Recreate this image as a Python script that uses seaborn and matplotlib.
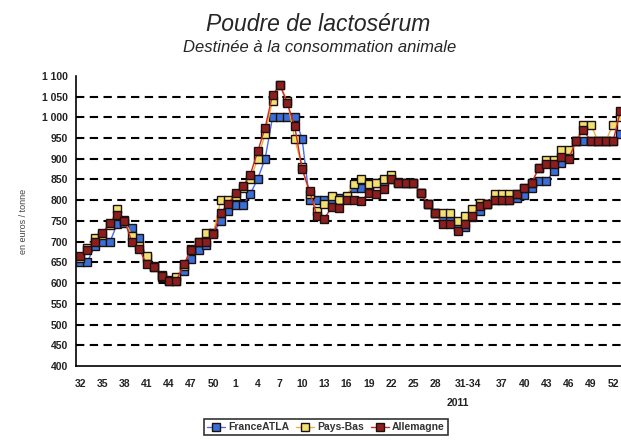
import pandas as pd
import matplotlib
matplotlib.use("Agg")
import matplotlib.pyplot as plt
import seaborn as sns

# Semaines : 2010 (32-52), 2011 (1-52), puis 1ère semaine 2012
semaines = [str(w) for w in range(32, 53)] + [str(w) for w in range(1, 53)] + ["1"]

france = [650, 652, 690, 700, 698, 742, 745, 734, 710, 660,
          640, 615, 605, 605, 630, 658, 680, 692, 720, 750,
          774, 788, 788, 815, 852, 900, 1000, 1000, 1000, 1000,
          948, 800, 800, 800, 800, 805, 805, 830, 830, 830,
          842, 845, 850, 845, 842, 842, 818, 790, 770, 755,
          750, 735, 735, 760, 775, 790, 800, 800, 800, 805,
          812, 830, 846, 846, 870, 890, 910, 942, 942, 942,
          942, 942, 942, 960]
pays_bas = [660, 685, 710, 715, 740, 780, 752, 714, 690, 666,
            642, 620, 608, 615, 642, 682, 700, 720, 720, 800,
            800, 810, 830, 850, 900, 960, 1040, 1078, 1040, 948,
            880, 815, 775, 790, 810, 800, 810, 840, 850, 840,
            842, 850, 862, 842, 842, 842, 818, 790, 770, 770,
            770, 750, 762, 778, 794, 790, 815, 815, 815, 815,
            830, 842, 878, 898, 898, 920, 920, 942, 982, 982,
            942, 942, 982, 1000]
allemagne = [665, 680, 698, 720, 745, 765, 750, 700, 682, 645,
             640, 618, 605, 605, 645, 680, 698, 700, 718, 770,
             790, 818, 834, 862, 918, 975, 1054, 1078, 1034, 978,
             875, 822, 762, 755, 784, 782, 800, 800, 798, 818,
             815, 826, 850, 842, 842, 842, 818, 790, 770, 742,
             742, 726, 742, 762, 785, 790, 800, 800, 800, 815,
             830, 842, 878, 888, 888, 905, 900, 942, 970, 942,
             942, 942, 942, 1015]

xtick_labels = ["32", "35", "38", "41", "44", "47", "50", "1", "4", "7",
                "10", "13", "16", "19", "22", "25", "28", "31-34", "37",
                "40", "43", "46", "49", "52"]
ytick_labels = ["400", "450", "500", "550", "600", "650", "700", "750", "800",
                "850", "900", "950", "1 000", "1 050", "1 100"]
yticks = [400, 450, 500, 550, 600, 650, 700, 750, 800, 850, 900, 950, 1000, 1050, 1100]

n = len(semaines)
df = pd.DataFrame({
    "idx": list(range(n)) * 3,
    "prix": france + pays_bas + allemagne,
    "pays": ["FranceATLA"] * n + ["Pays-Bas"] * n + ["Allemagne"] * n,
})

sns.set_style("white")
plt.rcParams["font.family"] = ["Liberation Sans", "DejaVu Sans"]

fig = plt.figure(figsize=(6.21, 4.45), dpi=100)
ax = fig.add_axes([0.123, 0.1775, 0.882, 0.652])

# grille pointillée
for y in yticks[1:-1]:
    ax.axhline(y, color="black", lw=1.5, ls=(0, (4, 2.6)), zorder=0)

styles = {
    "FranceATLA": ("#4a6cf0", "#3a6fd8"),
    "Pays-Bas": ("#f0b030", "#f2e070"),
    "Allemagne": ("#d02828", "#8e1d1d"),
}
for pays in ["FranceATLA", "Pays-Bas", "Allemagne"]:
    line_c, face_c = styles[pays]
    sns.lineplot(data=df[df["pays"] == pays], x="idx", y="prix", ax=ax,
                 color=line_c, lw=1.0, marker="s", markersize=5.5,
                 markerfacecolor=face_c, markeredgecolor="#1a1010",
                 markeredgewidth=1.0, label=pays, legend=False, zorder=3)

ax.set_xlim(-0.5, n - 0.5)
ax.set_ylim(400, 1100)
ax.set_yticks(yticks)
ax.set_yticklabels(ytick_labels)

# ticks x : petites marques entre catégories, étiquettes toutes les 3 semaines
xpos = list(range(0, 49, 3)) + [52.4] + list(range(57, 73, 3))
ax.set_xticks(xpos)
ax.set_xticklabels(xtick_labels)
ax.set_xticks([i - 0.5 for i in range(n + 1)], minor=True)
ax.tick_params(axis="x", which="major", length=0, pad=9, labelsize=7.5, colors="#222222")
ax.tick_params(axis="x", which="minor", length=3.5, width=1, direction="out", color="black")
ax.tick_params(axis="y", which="major", length=6, width=1, direction="inout", labelsize=7.5,
               colors="#222222", pad=3)
for lab in ax.get_xticklabels() + ax.get_yticklabels():
    lab.set_fontweight("bold")

ax.text(51, -0.128, "2011", transform=ax.get_xaxis_transform(), ha="center", va="center",
        fontsize=7.5, fontweight="bold", color="#222222")

for s in ["top", "right"]:
    ax.spines[s].set_visible(False)
for s in ["left", "bottom"]:
    ax.spines[s].set_color("black")
    ax.spines[s].set_linewidth(1.2)

ax.set_xlabel("")
ax.set_ylabel("en euros / tonne", fontsize=6.5, color="#444444", labelpad=10)

fig.text(0.512, 0.945, "Poudre de lactosérum", ha="center", va="center",
         fontsize=16.5, style="italic")
fig.text(0.515, 0.893, "Destinée à la consommation animale", ha="center", va="center",
         fontsize=12, style="italic")

leg = fig.legend(*ax.get_legend_handles_labels(), loc="center", bbox_to_anchor=(0.525, 0.04),
                 ncol=3, fontsize=7.5, frameon=True, fancybox=False, edgecolor="black",
                 handlelength=1.7, handletextpad=0.3, columnspacing=0.7, borderpad=0.3)
leg.get_frame().set_linewidth(1.2)
for t in leg.get_texts():
    t.set_fontweight("bold")
    t.set_color("#333333")

fig.savefig("out.png", dpi=100)
